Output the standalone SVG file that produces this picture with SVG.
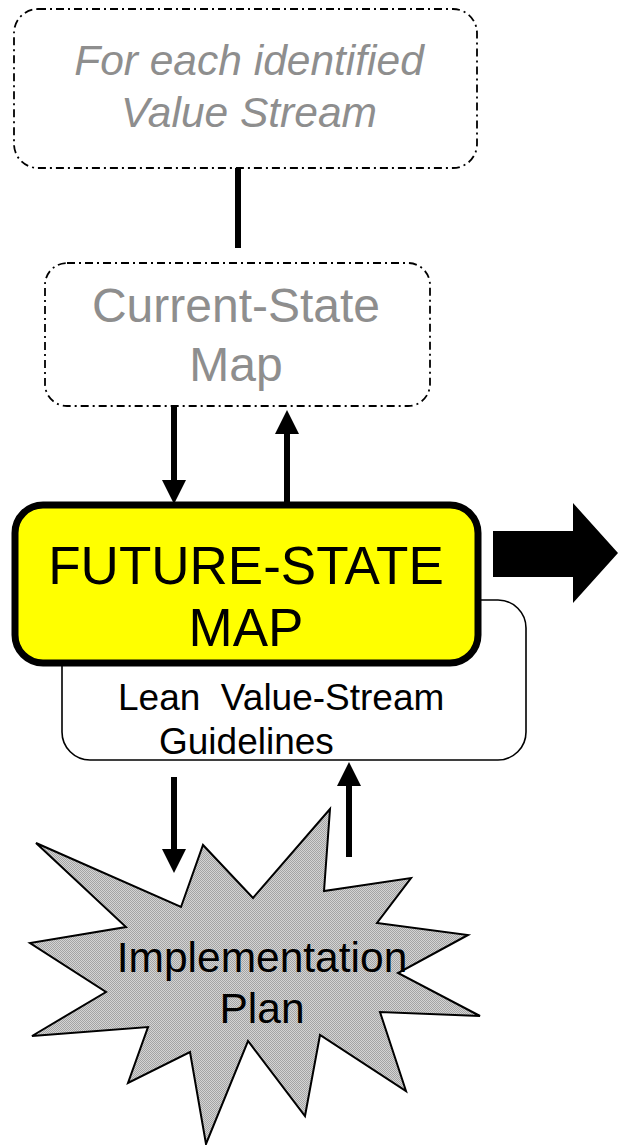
<svg xmlns="http://www.w3.org/2000/svg" width="618" height="1145" viewBox="0 0 618 1145">
<style>
.dashbox{fill:#fff;stroke:#000;stroke-width:1.8;stroke-dasharray:8 4 2 4}
.gray{fill:#8e8e8e;font-family:"Liberation Sans",Arial,sans-serif;text-anchor:middle}
.blk{fill:#000;font-family:"Liberation Sans",Arial,sans-serif}
.conn{stroke:#000;stroke-width:6;fill:none}
</style>
<defs>
<marker id="ah" markerUnits="userSpaceOnUse" markerWidth="24" markerHeight="24" refX="0" refY="12" orient="auto">
<path d="M0,0 L24,12 L0,24 z" fill="#000"/>
</marker>
<pattern id="dots" width="2" height="2" patternUnits="userSpaceOnUse">
<rect width="2" height="2" fill="#d4d4d4"/>
<rect width="1" height="1" fill="#a4a4a4"/>
<rect x="1" y="1" width="1" height="1" fill="#a4a4a4"/>
</pattern>
</defs>
<rect width="618" height="1145" fill="#fff"/>
<g id="value-stream">
<rect class="dashbox" x="14" y="9" width="463" height="159" rx="24"/>
<text class="gray" font-size="42.5" font-style="italic"><tspan x="249" y="75">For each identified</tspan><tspan x="249" y="127">Value Stream</tspan></text>
</g>
<g id="current-state">
<rect class="dashbox" x="45" y="263" width="385" height="143" rx="22"/>
<text class="gray" font-size="48"><tspan x="236" y="322">Current-State</tspan><tspan x="236" y="381">Map</tspan></text>
</g>
<g id="guidelines">
<rect x="62" y="600" width="464" height="160" rx="28" fill="#fff" stroke="#000" stroke-width="1.6"/>
<text class="blk" font-size="37" xml:space="preserve"><tspan x="118" y="710">Lean  Value-Stream</tspan><tspan x="159" y="754">Guidelines</tspan></text>
</g>
<g id="future-state">
<rect x="15" y="505" width="463" height="158" rx="28" fill="#ffff00" stroke="#000" stroke-width="7"/>
<text class="blk" font-size="53" text-anchor="middle"><tspan x="246" y="584">FUTURE-STATE</tspan><tspan x="246" y="646">MAP</tspan></text>
</g>
<g id="next-arrow">
<polygon points="493,531 573,531 573,503 618,553 573,603 573,577 493,577" fill="#000"/>
</g>
<g id="implementation-plan">
<polygon points="36,843 181,907 203,845 253,898 330,809 324,891 411,878 377,923 468,935 398,973 480,1016 380,1012 406,1091 320,1035 305,1116 248,1041 206,1144 190,1052 128,1083 148,1027 32,1036 106,992 30,943 126,927" fill="url(#dots)" stroke="#000" stroke-width="2" stroke-linejoin="miter"/>
<text class="blk" font-size="42.5" text-anchor="middle"><tspan x="262" y="972">Implementation</tspan><tspan x="262" y="1023">Plan</tspan></text>
</g>
<g id="connectors">
<line class="conn" x1="238" y1="168" x2="238" y2="248"/>
<line class="conn" x1="174" y1="407" x2="174" y2="480" marker-end="url(#ah)"/>
<line class="conn" x1="287" y1="503" x2="287" y2="434" marker-end="url(#ah)"/>
<line class="conn" x1="174" y1="777" x2="174" y2="849" marker-end="url(#ah)"/>
<line class="conn" x1="349" y1="857" x2="349" y2="786" marker-end="url(#ah)"/>
</g>
</svg>
